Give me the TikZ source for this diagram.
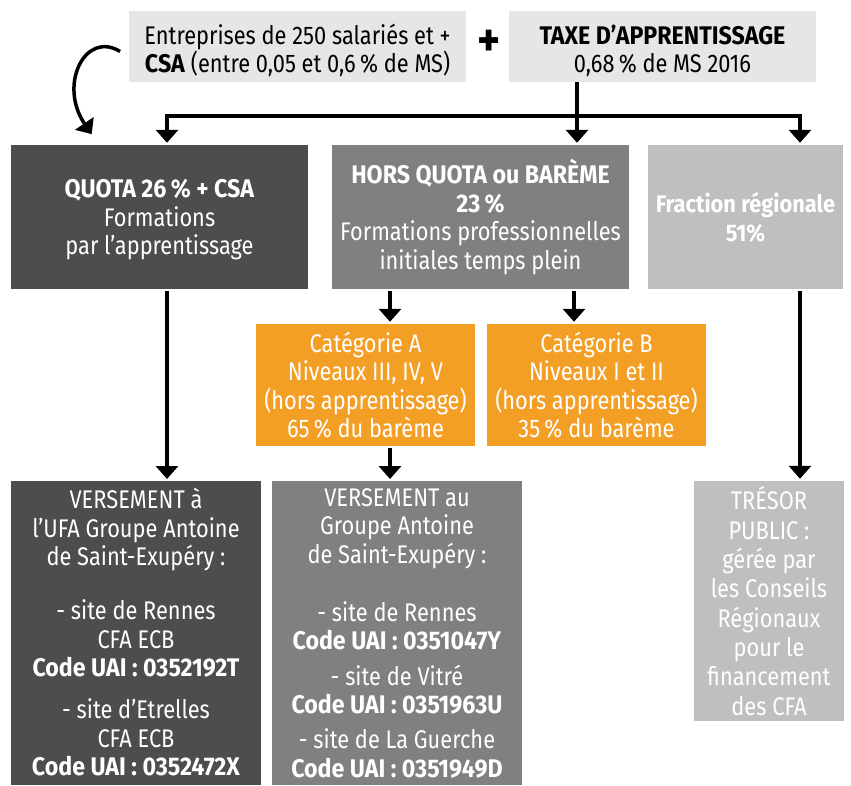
\documentclass[tikz,border=0pt]{standalone}
\usepackage{fontspec}
\setmainfont{Fira Sans}[FakeStretch=0.855, BoldFeatures={FakeStretch=0.91}]
\usetikzlibrary{arrows.meta}

\definecolor{topgrey}{HTML}{E6E6E6}
\definecolor{quotagrey}{HTML}{4D4D4D}
\definecolor{horsgrey}{HTML}{808080}
\definecolor{regiongrey}{HTML}{BFBFBF}
\definecolor{bareme}{HTML}{F39F26}

\begin{document}
\begin{tikzpicture}[x=1pt, y=-1pt,
  box/.style={rectangle, inner sep=0pt, align=center, text=white,
              font=\fontsize{25.5}{28.5}\selectfont},
  topbox/.style={box, fill=topgrey, text=black, minimum height=71pt},
  arr/.style={line width=3.5pt, -{Triangle[width=22pt,length=13pt]},
              shorten >=2pt, shorten <=2pt}]

\useasboundingbox (0,0) rectangle (851,785);

% sources
\node[topbox, minimum width=337pt] (entreprises) at (297.5,46.5)
      {\rule{0pt}{28pt}Entreprises de 250 salariés et +\\\textbf{CSA} (entre 0,05 et 0,6\,\% de MS)};
\node[topbox, minimum width=307pt] (taxe) at (662.5,46.5)
      {\rule{0pt}{28pt}\textbf{TAXE D’APPRENTISSAGE}\\0,68\,\% de MS 2016};
\node[font=\fontsize{48}{48}\selectfont\bfseries] (plus) at (489,43) {+};

% repartition
\node[box, fill=quotagrey, minimum width=297pt, minimum height=144pt] (quota) at (159.5,217)
      {\rule{0pt}{24pt}\textbf{QUOTA 26\,\% + CSA}\\Formations\\par l’apprentissage};
\node[box, fill=horsgrey, minimum width=297pt, minimum height=144pt] (hors) at (480.5,217)
      {\textbf{HORS QUOTA ou BARÈME}\\\textbf{23\,\%}\\Formations professionnelles\\initiales temps plein};
\node[box, fill=regiongrey, minimum width=195pt, minimum height=144pt,
      font=\fontsize{24}{29}\selectfont] (fraction) at (745.5,217)
      {\textbf{Fraction régionale}\\\textbf{51\%}};

\node[box, fill=bareme, minimum width=219pt, minimum height=122pt] (catA) at (365.5,385)
      {Catégorie A\\Niveaux III, IV, V\\(hors apprentissage)\\65\,\% du barème};
\node[box, fill=bareme, minimum width=219pt, minimum height=122pt] (catB) at (596.5,385)
      {Catégorie B\\Niveaux I et II\\(hors apprentissage)\\35\,\% du barème};

% versements
\node[box, fill=quotagrey, minimum width=250pt, minimum height=304pt, anchor=north] (versA) at (136,481) {};
\node[box, anchor=north] (versAtxt) at ([yshift=-7pt]versA.north)
      {VERSEMENT à\\l’UFA Groupe Antoine\\de Saint-Exupéry :\\[25.5pt]
       - site de Rennes\\CFA ECB\\\textbf{Code UAI : 0352192T}\\[13.5pt]
       - site d’Etrelles\\CFA ECB\\\textbf{Code UAI : 0352472X}};
\node[box, fill=horsgrey, minimum width=250pt, minimum height=304pt, anchor=north] (versB) at (397,481) {};
\node[box, anchor=north] (versBtxt) at ([yshift=-7pt]versB.north)
      {VERSEMENT au\\Groupe Antoine\\de Saint-Exupéry :\\[29.5pt]
       - site de Rennes\\\textbf{Code UAI : 0351047Y}\\[7pt]
       - site de Vitré\\\textbf{Code UAI : 0351963U}\\[6.5pt]
       - site de La Guerche\\\textbf{Code UAI : 0351949D}};
\node[box, fill=regiongrey, minimum width=150pt, minimum height=240pt,
      font=\fontsize{25.5}{29.3}\selectfont] (tresor) at (769,601)
      {TRÉSOR\\PUBLIC :\\gérée par\\les Conseils\\Régionaux\\pour le\\financement\\des CFA};

% connectors
\coordinate (split) at (577,116);
\draw[line width=3.5pt] (taxe.south -| split) -- (split);
\draw[arr, shorten <=0pt] (split) -- (split |- hors.north);
\draw[arr, shorten <=0pt] (split) -| ([xshift=7.5pt]quota.north);
\draw[arr, shorten <=0pt] (split) -| ([xshift=54.5pt]fraction.north);
\draw[arr] ([xshift=-7pt,yshift=-6pt]entreprises.west)
      .. controls (85,30) and (58,85) .. ([xshift=82pt,yshift=9pt]quota.north west);

\draw[arr] ([xshift=-90.5pt]hors.south) -- ([xshift=-90.5pt]hors.south |- catA.north);
\draw[arr] ([xshift=93.5pt]hors.south) -- ([xshift=93.5pt]hors.south |- catB.north);
\draw[arr] ([xshift=7.5pt]quota.south) -- ([xshift=7.5pt]quota.south |- versA.north);
\draw[arr] ([xshift=24.5pt]catA.south) -- ([xshift=24.5pt]catA.south |- versB.north);
\draw[arr] ([xshift=54.5pt]fraction.south) -- ([xshift=54.5pt]fraction.south |- tresor.north);
\end{tikzpicture}
\end{document}
